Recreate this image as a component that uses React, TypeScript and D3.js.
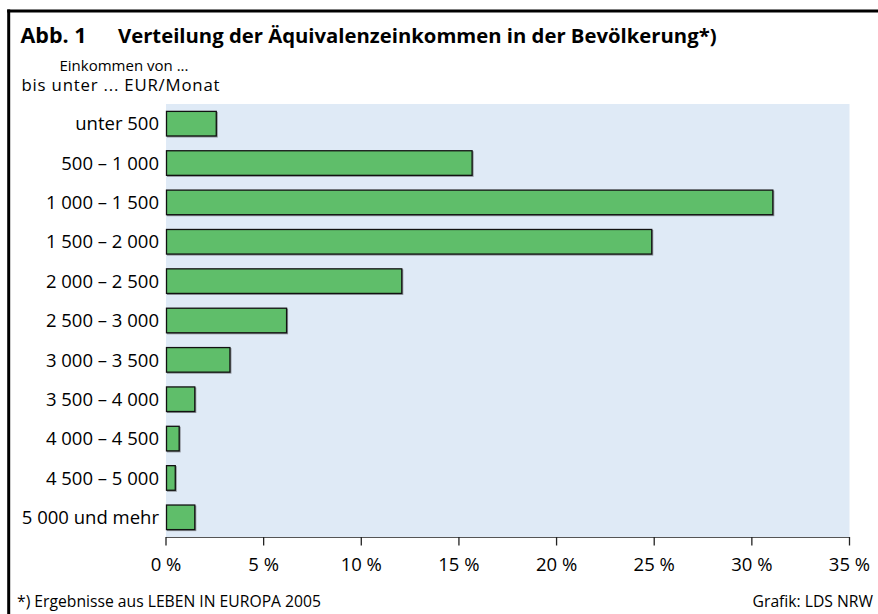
import React from "react";
import * as d3 from "d3";

const categories = [
  "unter 500",
  "500 – 1 000",
  "1 000 – 1 500",
  "1 500 – 2 000",
  "2 000 – 2 500",
  "2 500 – 3 000",
  "3 000 – 3 500",
  "3 500 – 4 000",
  "4 000 – 4 500",
  "4 500 – 5 000",
  "5 000 und mehr",
];
const values = [2.6, 15.7, 31.1, 24.9, 12.1, 6.2, 3.3, 1.5, 0.7, 0.5, 1.5];
const ticks = [0, 5, 10, 15, 20, 25, 30, 35];

const W = 878;
const H = 614;
const FONT = "'Open Sans', 'Noto Sans', sans-serif";

export default function App() {
  const x = d3.scaleLinear().domain([0, 35]).range([166, 849.5]);
  const y = d3
    .scaleBand<string>()
    .domain(categories)
    .range([104, 537])
    .paddingInner(0.35)
    .paddingOuter(0.175);

  return (
    <svg
      width={W}
      height={H}
      style={{ position: "absolute", left: 0, top: 0, background: "#fff" }}
      fontFamily={FONT}
    >
      {/* frame */}
      <line x1={8.7} x2={8.7} y1={9.5} y2={H} stroke="#000" strokeWidth={3} />
      <line x1={7.2} x2={W} y1={11} y2={11} stroke="#000" strokeWidth={3} />

      {/* title */}
      <text x={20.5} y={43} fontSize={20.5} fontWeight={700} fill="#000" textLength={66} lengthAdjust="spacingAndGlyphs">
        Abb. 1
      </text>
      <text x={118} y={43} fontSize={20.3} fontWeight={700} fill="#000">
        Verteilung der Äquivalenzeinkommen in der Bevölkerung*)
      </text>
      <text x={59.5} y={70.5} fontSize={15} fill="#000">
        Einkommen von ...
      </text>
      <text x={21.5} y={91} fontSize={16.8} fill="#000" textLength={198} lengthAdjust="spacing">
        bis unter ... EUR/Monat
      </text>

      {/* plot background */}
      <rect x={x(0)} y={104} width={x(35) - x(0)} height={537 - 104} fill="#dfeaf6" />

      {/* bars */}
      {categories.map((c, i) => (
        <g key={c}>
          <rect
            x={x(0) + 1}
            y={(y(c) as number) + 1}
            width={x(values[i]) - x(0)}
            height={y.bandwidth()}
            fill="#8a8f96"
          />
          <rect
            x={x(0) + 0.5}
            y={(y(c) as number) + 0.5}
            width={x(values[i]) - x(0) - 1}
            height={y.bandwidth() - 1}
            fill="#5fbe6a"
            stroke="#111"
            strokeWidth={1.3}
          />
          <text
            x={159}
            y={(y(c) as number) + y.bandwidth() / 2}
            dy="0.36em"
            textAnchor="end"
            fontSize={18.5}
            fill="#000"
          >
            {c}
          </text>
        </g>
      ))}

      {/* x axis */}
      <line x1={x(0)} x2={x(35)} y1={537.5} y2={537.5} stroke="#555" strokeWidth={1.2} />
      {ticks.map((t) => (
        <g key={t}>
          <line x1={x(t)} x2={x(t)} y1={537} y2={545.5} stroke="#222" strokeWidth={1.3} />
          <text x={x(t)} y={571} textAnchor="middle" fontSize={18.5} fill="#000">
            {`${t} %`}
          </text>
        </g>
      ))}

      {/* footer */}
      <text x={17} y={607} fontSize={15.7} fill="#000">
        *) Ergebnisse aus LEBEN IN EUROPA 2005
      </text>
      <text x={873} y={607} textAnchor="end" fontSize={15.7} fill="#000">
        Grafik: LDS NRW
      </text>
    </svg>
  );
}
